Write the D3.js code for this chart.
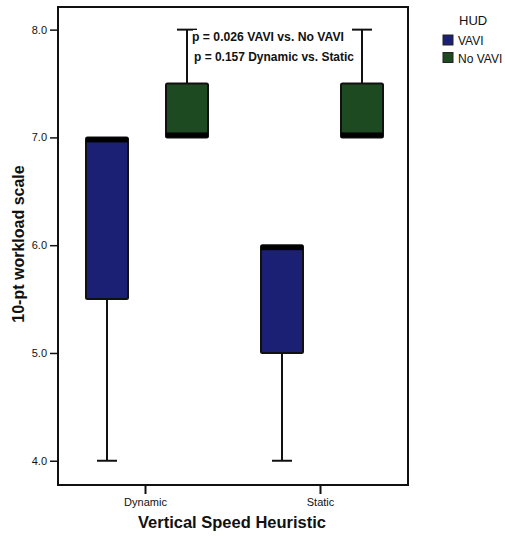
<!DOCTYPE html>
<html>
<head>
<meta charset="utf-8">
<script src="https://cdn.jsdelivr.net/npm/d3@7"></script>
<style>
  html, body { margin: 0; padding: 0; background: #fff; }
  svg { display: block; }
  text { font-family: "Liberation Sans", Arial, sans-serif; }
</style>
</head>
<body>
<svg id="chart" width="505" height="536"></svg>
<script>
// Workload ratings by vertical speed heuristic and HUD condition
const heuristics = ["Dynamic", "Static"];
const hudGroups = ["VAVI", "No VAVI"];
const hudColors = ["#1b2075", "#1d4a21"];
// five-number summaries per heuristic, per HUD group: [min, q1, median, q3, max]
const dynamicStats = [[4.0, 5.5, 7.0, 7.0, 7.0], [7.0, 7.0, 7.0, 7.5, 8.0]];
const staticStats = [[4.0, 5.0, 6.0, 6.0, 6.0], [7.0, 7.0, 7.0, 7.5, 8.0]];
const yTicks = [4.0, 5.0, 6.0, 7.0, 8.0];
const notes = ["p = 0.026 VAVI vs. No VAVI", "p = 0.157 Dynamic vs. Static"];

const statsByHeuristic = [dynamicStats, staticStats];

const svg = d3.select("#chart");
const frame = { left: 58, right: 408, top: 7, bottom: 485 };

const y = d3.scaleLinear().domain([3.775, 8.21]).range([frame.bottom, frame.top]);
const x = d3.scaleBand().domain(heuristics).range([59.5, 409.5]).paddingInner(0).paddingOuter(0);
const xInner = d3.scaleBand().domain(hudGroups).range([-80, 80]).paddingInner(0.475).paddingOuter(0.2375);

// frame
svg.append("rect")
  .attr("x", frame.left).attr("y", frame.top)
  .attr("width", frame.right - frame.left).attr("height", frame.bottom - frame.top)
  .attr("fill", "none").attr("stroke", "#111").attr("stroke-width", 2);

// y axis
const yAxis = d3.axisLeft(y).tickValues(yTicks).tickFormat(d3.format(".1f")).tickSize(8).tickPadding(3);
const yg = svg.append("g").attr("transform", `translate(${frame.left},0)`).call(yAxis);
yg.select(".domain").remove();
yg.selectAll("line").attr("stroke", "#111").attr("stroke-width", 1.5);
yg.selectAll("text").attr("font-size", 11).attr("fill", "#111").style("font-family", "'Liberation Sans', Arial, sans-serif");

// x axis
const xAxis = d3.axisBottom(x).tickSize(9).tickPadding(4);
const xg = svg.append("g").attr("transform", `translate(-1.5,${frame.bottom})`).call(xAxis);
xg.select(".domain").remove();
xg.selectAll("line").attr("stroke", "#111").attr("stroke-width", 2);
xg.selectAll("text").attr("font-size", 11).attr("fill", "#111")
  .style("font-family", "'Liberation Sans Narrow', 'Liberation Sans', Arial, sans-serif");

// boxes
const groups = svg.append("g").selectAll("g").data(heuristics).join("g")
  .attr("transform", d => `translate(${x(d) + x.bandwidth() / 2},0)`);

groups.each(function (h, hi) {
  const g = d3.select(this);
  statsByHeuristic[hi].forEach((s, gi) => {
    const [mn, q1, med, q3, mx] = s;
    const bx = xInner(hudGroups[gi]);
    const bw = xInner.bandwidth();
    const cx = bx + bw / 2;
    const capHalf = 10;
    if (mn < q1) {
      g.append("line").attr("x1", cx).attr("x2", cx).attr("y1", y(q1)).attr("y2", y(mn))
        .attr("stroke", "#111").attr("stroke-width", 2);
      g.append("line").attr("x1", cx - capHalf).attr("x2", cx + capHalf).attr("y1", y(mn)).attr("y2", y(mn))
        .attr("stroke", "#111").attr("stroke-width", 2);
    }
    if (mx > q3) {
      g.append("line").attr("x1", cx).attr("x2", cx).attr("y1", y(q3)).attr("y2", y(mx))
        .attr("stroke", "#111").attr("stroke-width", 2);
      g.append("line").attr("x1", cx - capHalf).attr("x2", cx + capHalf).attr("y1", y(mx)).attr("y2", y(mx))
        .attr("stroke", "#111").attr("stroke-width", 2);
    }
    g.append("rect").attr("x", bx).attr("y", y(q3)).attr("width", bw).attr("height", y(q1) - y(q3))
      .attr("fill", hudColors[gi]).attr("stroke", "#111").attr("stroke-width", 2).attr("rx", 1.5);
    // median band, kept inside the box
    const top = Math.max(y(med) - 2.5, y(q3));
    const bot = Math.min(y(med) + 2.5, y(q1));
    const mTop = med >= q3 ? y(q3) : (med <= q1 ? y(q1) - 5 : top);
    const mH = med >= q3 || med <= q1 ? 5 : bot - top;
    g.append("rect").attr("x", bx).attr("y", mTop).attr("width", bw).attr("height", mH)
      .attr("fill", "#000");
  });
});

// significance notes
const noteG = svg.append("g");
noteG.append("rect").attr("x", 193).attr("y", 30).attr("width", 158).attr("height", 34).attr("fill", "#fff");
const noteX = [192, 194];
const noteY = [41, 61];
const noteLen = [152, 160];
notes.forEach((t, i) => {
  noteG.append("text").attr("x", noteX[i]).attr("y", noteY[i])
    .attr("textLength", noteLen[i]).attr("lengthAdjust", "spacingAndGlyphs")
    .attr("font-size", 12.5).attr("font-weight", "bold").attr("fill", "#111")
    .style("font-family", "'Liberation Sans Narrow', 'Liberation Sans', Arial, sans-serif")
    .text(t);
});

// axis titles
svg.append("text").attr("x", 232).attr("y", 528).attr("text-anchor", "middle")
  .attr("font-size", 16.5).attr("font-weight", "bold").attr("fill", "#111")
  .text("Vertical Speed Heuristic");
svg.append("text").attr("transform", "translate(24,244) rotate(-90)").attr("text-anchor", "middle")
  .attr("font-size", 16).attr("font-weight", "bold").attr("fill", "#111")
  .text("10-pt workload scale");

// legend
const legend = svg.append("g");
legend.append("text").attr("x", 459).attr("y", 25).attr("font-size", 13).attr("fill", "#111").text("HUD");
hudGroups.forEach((h, i) => {
  legend.append("rect").attr("x", 443).attr("y", 35 + i * 17.5).attr("width", 10).attr("height", 10)
    .attr("fill", hudColors[i]).attr("stroke", "#222").attr("stroke-width", 1);
  legend.append("text").attr("x", 458).attr("y", 45 + i * 17.5).attr("font-size", 12).attr("fill", "#111").text(h);
});
</script>
</body>
</html>
